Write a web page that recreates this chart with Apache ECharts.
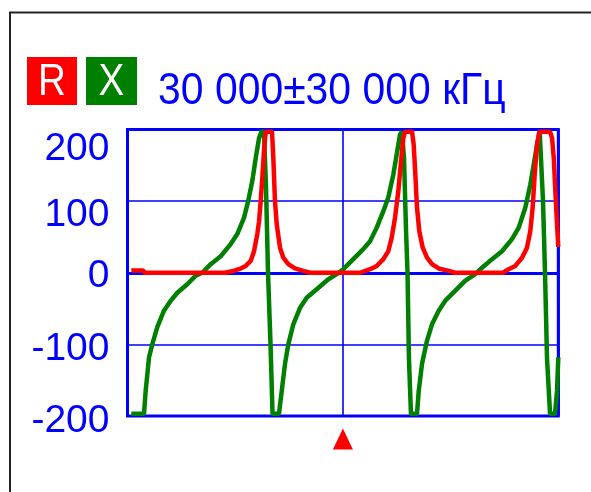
<!DOCTYPE html>
<html>
<head>
<meta charset="utf-8">
<script src="https://cdn.jsdelivr.net/npm/echarts@6/dist/echarts.min.js"></script>
<style>
html, body { margin: 0; padding: 0; background: #fff; }
#chart { width: 591px; height: 492px; }
</style>
</head>
<body>
<div id="chart"></div>
<script>
// X (реактивное сопротивление), частота в кГц
let xFreq = [530, 2300, 2530, 3000, 3450, 4150, 5080, 6020, 6940, 8330, 9500, 10420, 11590, 12980, 14370, 15290,
    16230, 16780, 17380, 17860, 18320, 18660, 19010, 19290, 19570, 19920, 20200, 21100, 21480, 21940, 22400,
    23090, 24030, 24960, 26350, 27970, 29140, 30060, 31450, 32840, 33780, 34710, 35630, 36320, 37020, 37490,
    37950, 38230, 38510, 38790, 39000, 39200, 39480, 40320, 40560, 41020, 41710, 42410, 43340, 44260, 45660,
    47050, 48440, 49380, 50770, 52160, 53550, 54490, 55410, 56100, 56580, 57040, 57410, 57590, 57870, 58150,
    58430, 58850, 59540, 59820, 60000]
let xVals = [-197, -197, -165, -118, -100, -76, -53, -39, -28, -16, -4, 0, 12, 23, 40, 54,
    77, 99, 128, 160, 188, 197, 197, 120, 0, -100, -197, -197, -165, -127, -100,
    -72, -49, -35, -23, -9, -2, 5, 19, 33, 44, 63, 86, 105, 137, 165,
    193, 197, 160, 60, 0, -120, -197, -197, -165, -127, -95, -72, -53, -39, -25,
    -11, -2, 7, 19, 30, 47, 63, 91, 123, 151, 179, 197, 197, 100, 0,
    -120, -197, -197, -165, -118]

// R (активное сопротивление)
let rFreq = [530, 2160, 2440, 13580, 14550, 15530, 16460, 17160, 17620, 18080, 18320, 18550, 18780, 19010,
    19250, 20130, 20310, 20540, 20780, 21240, 21700, 22400, 23330, 24490, 25420, 32390, 33780, 34710, 35630,
    36320, 36800, 37260, 37720, 38050, 38410, 38650, 39630, 39860, 40090, 40320, 40640, 41120, 41720, 42410,
    43340, 44740, 45610, 52300, 53090, 54010, 54950, 55640, 56100, 56430, 56710, 57040, 57360, 58850, 59130,
    59370, 59590, 59820, 60000]
let rVals = [3, 3, 0, 0, 2, 5, 9.5, 16.5, 30, 54, 72, 100, 133, 170,
    197, 197, 160, 100, 68, 35, 21, 12, 6, 2.6, 0, 0, 5, 9.5, 19,
    30, 49, 77, 114, 151, 188, 197, 197, 179, 137, 91, 58, 35, 21, 12,
    6, 2.6, 0, 0, 5, 9.5, 21, 35, 58, 91, 137, 179, 197, 197, 188,
    160, 114, 68, 36]

let markerFreq = 30000
let rangeText = '30 000±30 000 кГц'

let pairs = (f, v) => f.map((x, i) => [x, v[i]])
let fontName = '"Liberation Sans", Arial, sans-serif'
let blue = '#0000ff'

// сдвиг подписей оси вниз, как на экране прибора
let labelKey = { '200': 'a', '100': 'b', '0': 'c', '-100': 'd', '-200': 'e' }
let labelStyle = (shift) => ({
    fontSize: 39, color: blue, fontFamily: fontName, padding: [shift * 2, 0, 0, 0]
})

let mychart = echarts.init(document.getElementById('chart'))
mychart.setOption({
    animation: false,
    grid: {
        left: 127.5, right: 32.7, top: 129.5, bottom: 76,
        show: true, borderColor: blue, borderWidth: 3
    },
    xAxis: {
        type: 'value', min: 0, max: 60000, interval: 30000,
        axisLine: { show: true, onZero: true, lineStyle: { color: blue, width: 3 } },
        axisTick: { show: false },
        axisLabel: { show: false },
        splitLine: { show: true, lineStyle: { color: blue, width: 1.6, opacity: 1 } }
    },
    yAxis: {
        type: 'value', min: -200, max: 200, interval: 100,
        axisLine: { show: false },
        axisTick: { show: false },
        splitLine: { show: true, lineStyle: { color: blue, width: 1.6, opacity: 1 } },
        axisLabel: {
            margin: 18,
            fontSize: 39,
            color: blue,
            fontFamily: fontName,
            formatter: (v) => '{' + labelKey[String(v)] + '|' + v + '}',
            rich: {
                a: labelStyle(20),
                b: labelStyle(14),
                c: labelStyle(3),
                d: labelStyle(5),
                e: labelStyle(5)
            }
        }
    },
    series: [
        {
            name: 'X',
            type: 'line',
            data: pairs(xFreq, xVals),
            symbol: 'none',
            z: 3,
            lineStyle: { color: '#008000', width: 4.5 }
        },
        {
            name: 'R',
            type: 'line',
            data: pairs(rFreq, rVals),
            symbol: 'none',
            z: 4,
            lineStyle: { color: '#ff0000', width: 4.5 },
            markPoint: {
                symbol: 'triangle',
                symbolSize: [20, 21],
                symbolOffset: [0, 23],
                itemStyle: { color: '#ff0000' },
                label: { show: false },
                data: [{ coord: [markerFreq, -200] }]
            }
        }
    ],
    graphic: [
        { type: 'line', shape: { x1: 9, y1: 12.5, x2: 591, y2: 12.5 }, style: { stroke: '#222', lineWidth: 2 } },
        { type: 'line', shape: { x1: 10, y1: 12, x2: 10, y2: 492 }, style: { stroke: '#222', lineWidth: 2 } },
        { type: 'rect', shape: { x: 27, y: 57, width: 50, height: 48 }, style: { fill: '#ff0000' } },
        {
            type: 'text', x: 52, y: 83, scaleX: 0.88,
            style: { text: 'R', fill: '#fff', font: '44px ' + fontName, align: 'center', verticalAlign: 'middle' }
        },
        { type: 'rect', shape: { x: 86, y: 57, width: 51, height: 48 }, style: { fill: '#008000' } },
        {
            type: 'text', x: 111.5, y: 83, scaleX: 0.88,
            style: { text: 'X', fill: '#fff', font: '44px ' + fontName, align: 'center', verticalAlign: 'middle' }
        },
        {
            type: 'text', x: 158, y: 92, scaleX: 0.93,
            style: { text: rangeText, fill: blue, font: '44px ' + fontName, align: 'left', verticalAlign: 'middle' }
        }
    ]
})
</script>
</body>
</html>
